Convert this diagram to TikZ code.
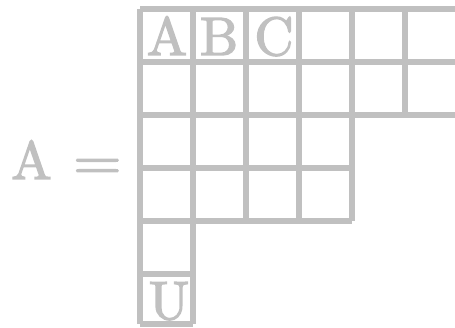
\documentclass[tikz,border=0pt]{standalone}
\usepackage{fontspec}
\usepackage{graphicx}
\newfontfamily\tenrm{lmroman10-regular}[Extension=.otf,FakeBold=2.5]
\definecolor{gridgray}{RGB}{192,192,192}
\tikzset{
  gridline/.style={draw=gridgray, line width=6pt, line cap=square},
  bigletter/.style={text=gridgray, inner sep=0pt, anchor=base, font=\tenrm\fontsize{54}{60}\selectfont},
}
\begin{document}
\begin{tikzpicture}[x=1pt,y=-1pt]
\useasboundingbox (0,0) rectangle (455,328);
\begin{scope}
\clip (0,0) rectangle (455,328);
% horizontal lines
\draw[gridline] (140,9) -- (462,9);
\draw[gridline] (140,62) -- (462,62);
\draw[gridline] (140,115) -- (462,115);
\draw[gridline] (140,168) -- (352,168);
\draw[gridline] (140,221) -- (352,221);
\draw[gridline] (140,274) -- (193,274);
\draw[gridline] (140,324) -- (193,324);
% vertical lines
\draw[gridline] (140,9) -- (140,324);
\draw[gridline] (193,9) -- (193,324);
\draw[gridline] (246,9) -- (246,221);
\draw[gridline] (299,9) -- (299,221);
\draw[gridline] (352,9) -- (352,221);
\draw[gridline] (405,9) -- (405,115);
\end{scope}
% letters in cells
\node[bigletter] (cA) at (167,55) {A};
\node[bigletter] (cB) at (219,55) {B};
\node[bigletter] (cC) at (274,55) {C};
\node[bigletter] (cU) at (169,319) {U};
% left label
\node[bigletter, anchor=base west] (lA) at (11,179) {A};
\node[bigletter, anchor=base west] (eq) at (73,179) {\scalebox{1.15}[1]{=}};
\end{tikzpicture}
\end{document}
